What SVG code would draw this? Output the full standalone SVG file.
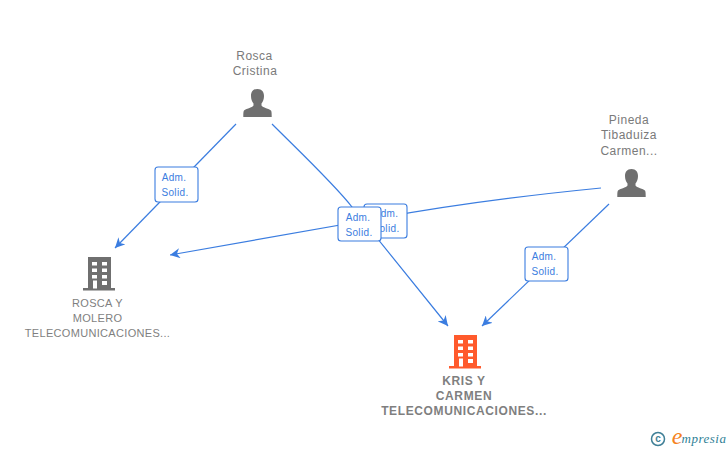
<svg xmlns="http://www.w3.org/2000/svg" width="728" height="450" viewBox="0 0 728 450">
<style>
text{font-family:"Liberation Sans",Arial,sans-serif;text-anchor:middle}
.n{font-size:12px;fill:#7a7a7a;letter-spacing:.5px}
.c{font-size:11px;fill:#7f7f7f;letter-spacing:.32px}
.b{font-size:12px;fill:#7f7f7f;font-weight:bold;letter-spacing:.62px}
.l{font-size:10px;fill:#3b7de0;letter-spacing:.35px}
.e{fill:none;stroke:#3b7de0;stroke-width:1.2}
.box{fill:#fff;stroke:#3b7de0;stroke-width:1.1}
.p{fill:#6f6f6f}
.w{fill:#fff}
</style>
<defs>
<marker id="a" markerWidth="12" markerHeight="10" refX="10" refY="5" orient="auto" markerUnits="userSpaceOnUse"><path d="M0 0L10 5L0 10L3 5Z" fill="#3b7de0"/></marker>
<path id="person" d="M0 -14c-4.500 0-6.500 3-6.500 7 0 3 1 5.500 2.500 7.500v2c-1 2-8 3.500-9.500 5-.7 1-.7 3.500-.7 6.500h28.400c0-3 0-5.500-.7-6.500-1.500-1.500-8.500-3-9.500-5v-2c1.500-2 2.500-4.500 2.500-7.500 0-4-2-7-6.500-7z"/>
<g id="bld"><path d="M-11 -17H12V14H16V16.500H-16V14H-11Z"/><g class="w"><rect x="-7" y="-12" width="5" height="3.500"/><rect x="3" y="-12" width="5" height="3.500"/><rect x="-7" y="-5.500" width="5" height="3.500"/><rect x="3" y="-5.500" width="5" height="3.500"/><rect x="-7" y="1" width="5" height="3.500"/><rect x="3" y="1" width="5" height="3.500"/><rect x="-6" y="6.500" width="4" height="8"/><rect x="3" y="7" width="5" height="4"/></g></g>
</defs>
<g id="connectors">
<path class="e" d="M236 124L115 248" marker-end="url(#a)"/>
<path class="e" d="M272 124C300 152 335 185 352 207L448 326" marker-end="url(#a)"/>
<path class="e" d="M601 188C520 196 440 207 380 218L170 255" marker-end="url(#a)"/>
<path class="e" d="M609 204L482 326" marker-end="url(#a)"/>
</g>
<g id="edge-label-1"><rect class="box" x="155" y="167" width="43" height="35" rx="3"/><text class="l" x="174" y="181">Adm.</text><text class="l" x="175" y="196">Solid.</text></g>
<g id="edge-label-3"><rect class="box" x="364" y="204" width="43" height="34" rx="3"/><text class="l" x="386" y="217">Adm.</text><text class="l" x="386" y="232">Solid.</text></g>
<g id="edge-label-2"><rect class="box" x="338" y="207" width="43" height="34" rx="3"/><text class="l" x="358" y="221">Adm.</text><text class="l" x="359" y="236">Solid.</text></g>
<g id="edge-label-4"><rect class="box" x="525" y="247" width="43" height="34" rx="3"/><text class="l" x="544" y="260">Adm.</text><text class="l" x="545" y="275">Solid.</text></g>
<g id="node-rosca-cristina"><text class="n" x="254.500" y="60">Rosca</text><text class="n" x="255" y="75">Cristina</text><use href="#person" class="p" x="257.500" y="103"/></g>
<g id="node-pineda"><text class="n" x="629" y="124">Pineda</text><text class="n" x="629" y="139">Tibaduiza</text><text class="n" x="629" y="155">Carmen...</text><use href="#person" class="p" x="631.500" y="183"/></g>
<g id="node-rosca-molero"><use href="#bld" x="99" y="274" fill="#6f6f6f"/><text class="c" x="97.500" y="307">ROSCA Y</text><text class="c" x="97.500" y="322">MOLERO</text><text class="c" x="97.500" y="337">TELECOMUNICACIONES...</text></g>
<g id="node-kris"><use href="#bld" x="465" y="352" fill="#ff5a2c"/><text class="b" x="464" y="385">KRIS Y</text><text class="b" x="464" y="400">CARMEN</text><text class="b" x="464" y="415">TELECOMUNICACIONES...</text></g>
<g id="logo"><circle cx="658" cy="439" r="6.500" fill="none" stroke="#3f7f96" stroke-width="1.500"/><text x="658" y="442" style="font-size:10px;fill:#3f7f96;font-weight:bold">c</text><text x="677" y="444" style="font-size:24px;fill:#f58220;font-family:'Liberation Serif',serif;font-style:italic">e</text><text x="704" y="443" style="font-size:13px;fill:#2f7f96;font-family:'Liberation Serif',serif;font-style:italic;letter-spacing:.5px">mpresia</text></g>
</svg>
